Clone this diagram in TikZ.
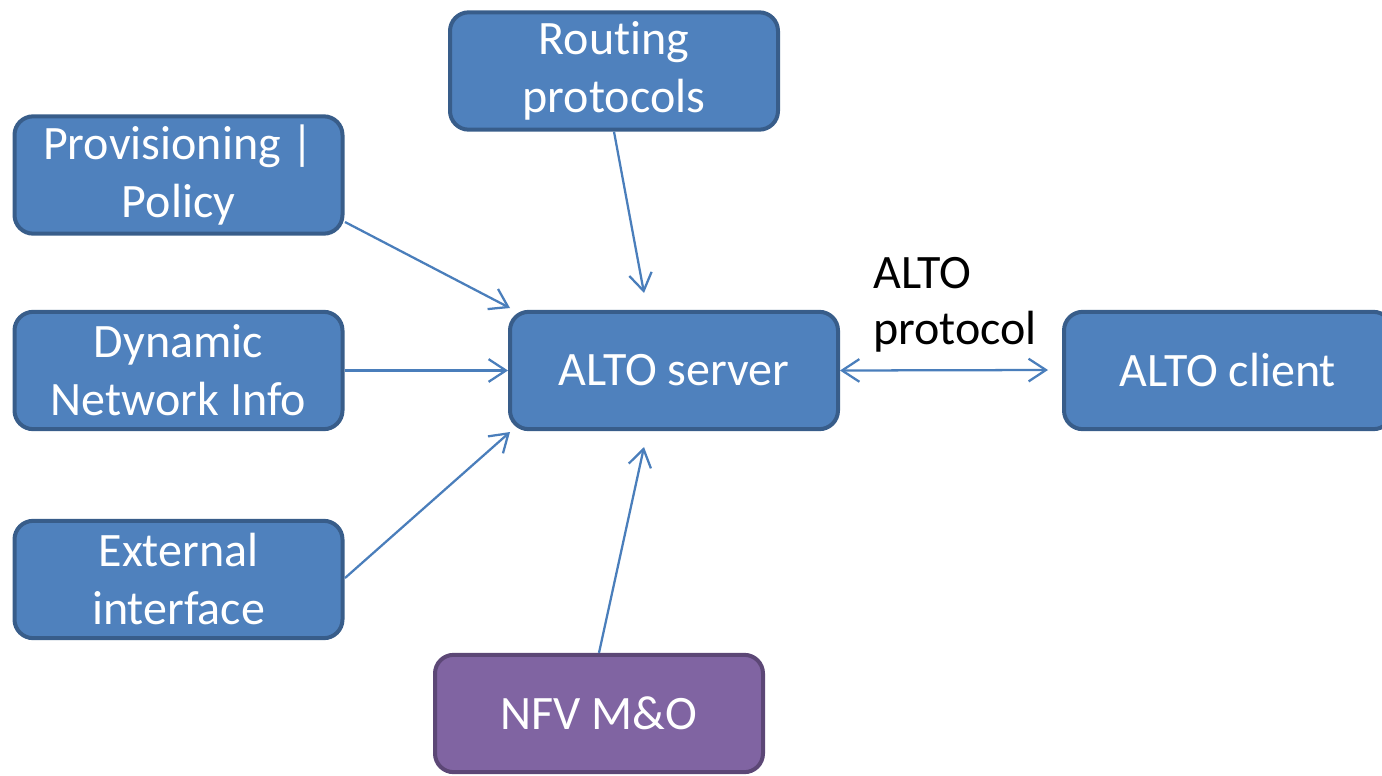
\documentclass[tikz,border=0pt]{standalone}
\usepackage{fontspec}
\setmainfont{Carlito}[Ligatures=NoCommon]
\usetikzlibrary{arrows.meta}
\definecolor{boxblue}{HTML}{4F81BD}
\definecolor{boxblueedge}{HTML}{385D8A}
\definecolor{boxpurple}{HTML}{8064A2}
\definecolor{boxpurpleedge}{HTML}{5C4776}
\definecolor{linkblue}{HTML}{4A7EBB}
\tikzset{
  px/.style={x=0.75pt,y=-0.75pt},
  bluebox/.style={draw=boxblueedge, fill=boxblue, line width=3pt, rounded corners=14pt,
    minimum width=246pt, minimum height=88pt, text=white, align=center, inner sep=2pt,
    font=\fontsize{36}{43.5}\selectfont},
  purplebox/.style={bluebox, draw=boxpurpleedge, fill=boxpurple},
  link/.style={draw=linkblue, line width=1.7pt, -{Straight Barb[length=13pt,width=17pt]}},
  biglabel/.style={font=\fontsize{36}{42}\selectfont, align=left, inner sep=0pt, anchor=west}
}
\begin{document}
\begin{tikzpicture}[px]
\useasboundingbox (0,0) rectangle (1382,775);
\node[bluebox] (routing) at (614,71) {Rout\kern0pt ing\\protocols};
\node[bluebox] (prov) at (178.5,175) {Provisioning |\\Policy};
\node[bluebox] (dyn) at (178.5,370.5) {Dynamic\\Network Info};
\node[bluebox] (ext) at (178.5,579.5) {External\\interface};
\node[bluebox] (server) at (674,370.5) {ALTO server};
\node[bluebox] (client) at (1228,370.5) {ALTO client};
\node[purplebox] (nfv) at (599,713.5) {NFV M\&O};
\node[biglabel] (proto) at (873,305) {ALTO\\protocol};
\coordinate (pStart) at (345,222);
\coordinate (eStart) at (345,578);
\coordinate (rTip) at (644,293);
\coordinate (pTip) at (510,308);
\coordinate (eTip) at (510,432);
\coordinate (nTip) at (644,447);
\coordinate (cTip) at (1048,370);
\draw[link] (routing.south) -- (rTip);
\draw[link] (pStart) -- (pTip);
\draw[link] (dyn.east) -- (server.west);
\draw[link] (eStart) -- (eTip);
\draw[link] (nfv.north) -- (nTip);
\draw[link, {Straight Barb[length=13pt,width=17pt]}-{Straight Barb[length=13pt,width=17pt]}] (server.east) -- (cTip);
\end{tikzpicture}
\end{document}
